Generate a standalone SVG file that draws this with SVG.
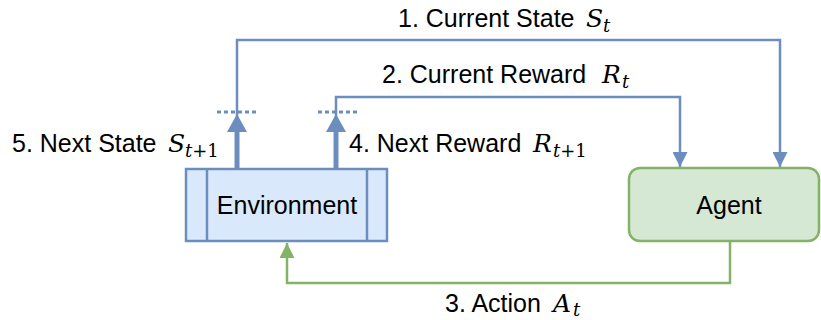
<svg xmlns="http://www.w3.org/2000/svg" width="821" height="320" viewBox="0 0 821 320">
<defs>
<style>
.lbl{font-family:"Liberation Sans",Arial,sans-serif;font-size:25px;fill:#000}
.node{font-family:"Liberation Sans",Arial,sans-serif;font-size:25px;fill:#000;text-anchor:middle}
.m{font-family:"DejaVu Serif","Liberation Serif",serif;font-style:italic;font-size:25px}
.sub{font-family:"DejaVu Serif","Liberation Serif",serif;font-size:18px;font-style:normal}
.si{font-style:italic}
.blue{fill:none;stroke:#6c8ebf;stroke-width:2.5}
.thick{fill:none;stroke:#6c8ebf;stroke-width:5}
.dot{fill:none;stroke:#6c8ebf;stroke-width:3;stroke-dasharray:4 3}
.green{fill:none;stroke:#82b366;stroke-width:2.5}
</style>
<marker id="ab" viewBox="0 0 10 10" refX="10" refY="5" markerWidth="6" markerHeight="6" markerUnits="strokeWidth" orient="auto"><path d="M0,0 L10,5 L0,10 Z" fill="#6c8ebf"/></marker>
<marker id="ag" viewBox="0 0 10 10" refX="10" refY="5" markerWidth="6" markerHeight="6" markerUnits="strokeWidth" orient="auto"><path d="M0,0 L10,5 L0,10 Z" fill="#82b366"/></marker>
</defs>
<g id="connectors">
<path class="blue" d="M237,131 V40 H780 V167" marker-end="url(#ab)"/>
<path class="blue" d="M336,131 V97 H680 V167" marker-end="url(#ab)"/>
<path class="thick" d="M237,169 V131"/>
<path class="thick" d="M336,169 V131"/>
<path d="M227,132 L237,114 L247,132 Z" fill="#6c8ebf"/>
<path d="M326,132 L336,114 L346,132 Z" fill="#6c8ebf"/>
<path class="dot" d="M217,112 H257"/>
<path class="dot" d="M318,112 H358"/>
<path class="green" d="M730,241 V283 H287 V243" marker-end="url(#ag)"/>
</g>
<g id="environment">
<rect x="186" y="169" width="201" height="72" fill="#dae8fc" stroke="#6c8ebf" stroke-width="2.5"/>
<line x1="207" y1="169" x2="207" y2="241" stroke="#6c8ebf" stroke-width="2.5"/>
<line x1="367" y1="169" x2="367" y2="241" stroke="#6c8ebf" stroke-width="2.5"/>
<text class="node" x="287" y="214">Environment</text>
</g>
<g id="agent">
<rect x="629" y="168" width="190" height="73" rx="11" fill="#d5e8d4" stroke="#82b366" stroke-width="2.5"/>
<text class="node" x="729" y="214">Agent</text>
</g>
<g id="labels">
<text class="lbl" x="398" y="27">1. Current State <tspan class="m" x="586">S</tspan><tspan class="sub si" x="603" y="32">t</tspan></text>
<text class="lbl" x="382" y="83">2. Current Reward <tspan class="m" x="602">R</tspan><tspan class="sub si" x="622" y="88">t</tspan></text>
<text class="lbl" x="445" y="312">3. Action <tspan class="m" x="553">A</tspan><tspan class="sub si" x="573" y="316">t</tspan></text>
<text class="lbl" x="349" y="152">4. Next Reward <tspan class="m" x="533">R</tspan><tspan class="sub" x="553" y="157"><tspan class="si">t</tspan>+1</tspan></text>
<text class="lbl" x="12" y="152">5. Next State <tspan class="m" x="168">S</tspan><tspan class="sub" x="185" y="157"><tspan class="si">t</tspan>+1</tspan></text>
</g>
</svg>
